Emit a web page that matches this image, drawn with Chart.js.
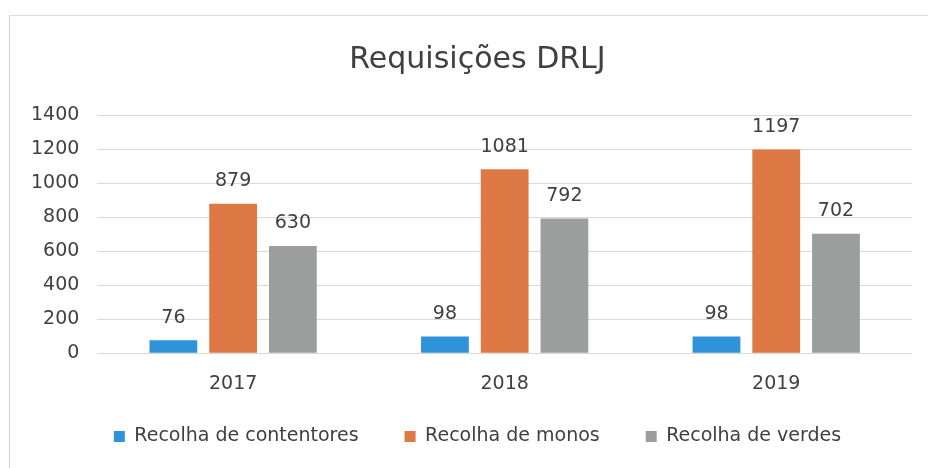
<!DOCTYPE html>
<html>
<head>
<meta charset="utf-8">
<script src="https://cdn.jsdelivr.net/npm/chart.js@4"></script>
<style>
    html, body { margin: 0; padding: 0; background: #fff; }
    #wrap { position: relative; width: 928px; height: 468px; }
    #frame { position: absolute; left: 9px; top: 15px; right: 0; bottom: 0; border-left: 1px solid #d4d4d4; border-top: 1px solid #dcdcdc; pointer-events: none; }
</style>
</head>
<body>
<div id="wrap">
    <canvas id="chart" width="928" height="468"></canvas>
    <div id="frame"></div>
</div>
<script>
const years = ['2017', '2018', '2019'];
const contentores = [76, 98, 98];
const monos = [879, 1081, 1197];
const verdes = [630, 792, 702];
const yTicks = [0, 200, 400, 600, 800, 1000, 1200, 1400];

const textColor = '#404040';
const fontFamily = "'DejaVu Sans', sans-serif";
const legendOverlap = 25;
const centerShift = 15;

// draws the value above each bar
const barValues = {
    id: 'barValues',
    afterDatasetsDraw(chart) {
        const ctx = chart.ctx;
        ctx.save();
        ctx.fillStyle = textColor;
        ctx.font = '19px ' + fontFamily;
        ctx.textAlign = 'center';
        ctx.textBaseline = 'bottom';
        chart.data.datasets.forEach((ds, i) => {
            chart.getDatasetMeta(i).data.forEach((bar, j) => {
                ctx.fillText(ds.data[j], bar.x, bar.y - 13);
            });
        });
        ctx.restore();
    }
};

// legend keeps wide item spacing without eating the plot height,
// title and legend sit a bit right of the canvas centre like the original
const tightLegend = {
    id: 'tightLegend',
    beforeInit(chart) {
        const legend = chart.legend;
        const fit = legend.fit;
        legend.fit = function () {
            fit.call(this);
            this.height -= legendOverlap;
        };
    },
    afterLayout(chart) {
        const legend = chart.legend;
        legend.top -= legendOverlap;
        legend.height += legendOverlap;
        [legend, chart.titleBlock].forEach(box => {
            box.left += centerShift;
            box.right += centerShift;
        });
    }
};

new Chart(document.getElementById('chart'), {
    type: 'bar',
    data: {
        labels: years,
        datasets: [
            { label: 'Recolha de contentores', data: contentores, backgroundColor: '#2e93d8' },
            { label: 'Recolha de monos', data: monos, backgroundColor: '#de7844' },
            { label: 'Recolha de verdes', data: verdes, backgroundColor: '#9c9d9d' }
        ]
    },
    options: {
        responsive: false,
        animation: false,
        categoryPercentage: 0.66,
        barPercentage: 0.8,
        layout: { padding: { left: 13, right: 16, top: 14, bottom: 12 } },
        plugins: {
            title: {
                display: true,
                text: 'Requisições DRLJ',
                color: textColor,
                font: { family: fontFamily, size: 30, weight: 'normal' },
                padding: { top: 28, bottom: 37 }
            },
            legend: {
                position: 'bottom',
                labels: {
                    color: textColor,
                    font: { family: fontFamily, size: 19 },
                    boxWidth: 11,
                    boxHeight: 11,
                    padding: 46
                }
            },
            tooltip: { enabled: false }
        },
        scales: {
            x: {
                grid: { display: false },
                border: { display: false },
                ticks: { color: textColor, font: { family: fontFamily, size: 19 }, padding: 11 }
            },
            y: {
                min: 0,
                max: 1400,
                afterBuildTicks: axis => { axis.ticks = yTicks.map(v => ({ value: v })); },
                grid: { color: '#d9d9d9', drawTicks: false },
                border: { display: false },
                ticks: {
                    color: textColor,
                    font: { family: fontFamily, size: 19 },
                    padding: 18,
                    callback: v => String(v)
                }
            }
        }
    },
    plugins: [barValues, tightLegend]
});
</script>
</body>
</html>
